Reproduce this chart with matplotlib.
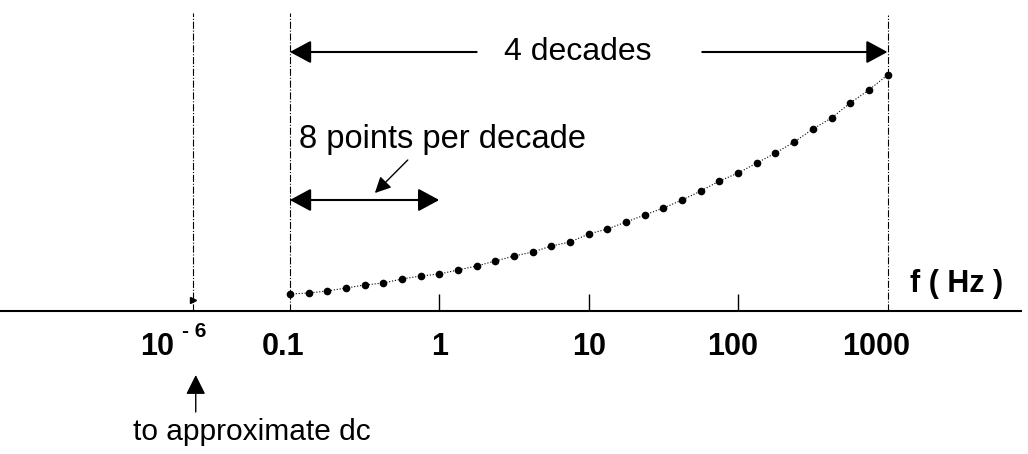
import numpy as np
import matplotlib.pyplot as plt
from matplotlib.transforms import ScaledTranslation

plt.rcParams['font.family'] = ['Liberation Sans', 'DejaVu Sans']

# frequency sweep: 8 points per decade, 0.1 Hz .. 1 kHz (4 decades)
freq = np.logspace(-1, 3, 33)
# curve height above the axis
level = [17, 18, 20, 23, 26, 28, 32, 35, 37, 41, 45, 50, 55, 59, 65, 69, 77,
         82, 89, 96, 103, 111, 120, 130, 138, 148, 158, 169, 182, 193, 208,
         221, 236]

# axis is log10(f); 1e-6 (dc stand-in) is squeezed in just left of 0.1
tick_pos = [-1.65, -1, 0, 1, 2, 3]
tick_labels = ['10', '0.1', '1', '10', '100', '1000']
dc_exponent = '- 6'
marked = [-1.65, -1, 3]   # dash-dot markers


def main():
    fig = plt.figure(figsize=(10.28, 4.54), dpi=100)
    ax = fig.add_axes([0, 0, 1, 1])
    ax.set_xlim(-2.94, 3.94)
    ax.set_ylim(-143, 311)

    for s in ('left', 'right', 'top'):
        ax.spines[s].set_visible(False)
    ax.spines['bottom'].set_position(('data', 0))
    ax.spines['bottom'].set_linewidth(1.5)
    ax.spines['bottom'].set_bounds(-2.94, 3.89)
    ax.set_yticks([])

    ax.set_xticks(tick_pos, tick_labels, fontweight='bold')
    ax.tick_params(axis='x', direction='in', length=12, width=1,
                   labelsize=22, pad=15)
    ticks = ax.xaxis.get_major_ticks()
    for i in (0, 1, 5):
        ticks[i].tick1line.set_visible(False)
    nudges = [-36, -7, 0, 0, -6, -11]
    for lbl, dx in zip(ax.get_xticklabels(), nudges):
        lbl.set_transform(lbl.get_transform()
                          + ScaledTranslation(dx / 100, 0, fig.dpi_scale_trans))
    # exponent of the 10^-6 label
    ax.text(-1.722, -26, dc_exponent, ha='left', va='baseline', fontsize=15,
            fontweight='bold')

    ax.vlines(marked, 0, [298, 298, 296], colors='k', linestyles='dashdot',
              lw=0.8)
    ax.plot(marked[0], 11, marker='>', ms=4, color='k')

    ax.plot(np.log10(freq), level, ':', color='k', lw=0.8, marker='o', ms=4.5)

    big = dict(arrowstyle='-|>,head_length=0.65,head_width=0.35',
               mutation_scale=20, lw=1.5, color='k', shrinkA=0, shrinkB=0)
    ax.annotate('', xy=(-1, 259), xytext=(0.25, 259), arrowprops=big)
    ax.annotate('', xy=(3, 259), xytext=(1.76, 259), arrowprops=big)
    ax.annotate('', xy=(0, 111), xytext=(-1, 111),
                arrowprops=dict(big, arrowstyle='<|-|>,head_length=0.65,head_width=0.35'))
    ax.annotate('', xy=(-0.431, 118), xytext=(-0.211, 151),
                arrowprops=dict(arrowstyle='-|>,head_length=0.6,head_width=0.3',
                                mutation_scale=16, lw=1, color='k',
                                shrinkA=0, shrinkB=0))
    ax.annotate('', xy=(-1.63, -64), xytext=(-1.63, -101),
                arrowprops=dict(arrowstyle='-|>,head_length=0.6,head_width=0.3',
                                mutation_scale=20, lw=1, color='k',
                                shrinkA=0, shrinkB=0))

    ax.text(0.926, 251, '4 decades', ha='center', va='baseline', fontsize=23)
    ax.text(-0.94, 163, '8 points per decade', ha='left', va='baseline',
            fontsize=23.5)
    ax.text(3.147, 19, 'f ( Hz )', ha='left', va='baseline', fontsize=22,
            fontweight='bold')
    ax.text(-2.05, -129, 'to approximate dc', ha='left', va='baseline',
            fontsize=21.5)

    fig.savefig('out.png', dpi=100)


if __name__ == "__main__":
    main()
